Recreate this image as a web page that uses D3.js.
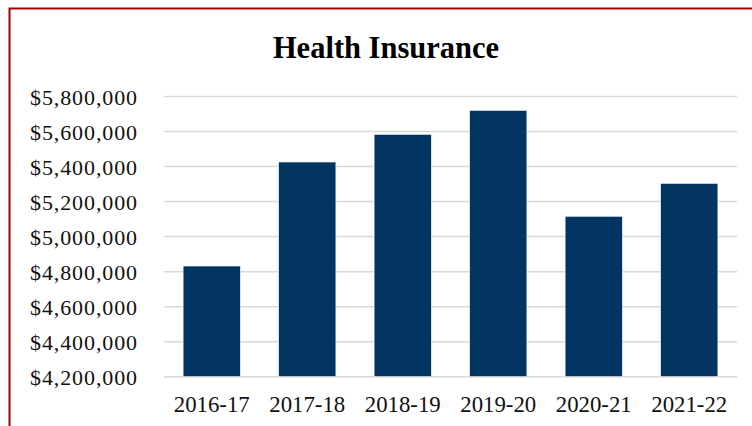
<!DOCTYPE html>
<html>
<head>
<meta charset="utf-8">
<script src="https://cdn.jsdelivr.net/npm/d3@7"></script>
<style>
  html, body { margin: 0; padding: 0; background: #fff; }
  svg { display: block; }
</style>
</head>
<body>
<svg id="chart" width="752" height="426"></svg>
<script>
const title = "Health Insurance";
const categories = ["2016-17", "2017-18", "2018-19", "2019-20", "2020-21", "2021-22"];
const values = [4832000, 5426000, 5584000, 5721000, 5116000, 5304000];
const yTicks = [4200000, 4400000, 4600000, 4800000, 5000000, 5200000, 5400000, 5600000, 5800000];

const svg = d3.select("#chart");
const W = 752, H = 426;

// outer border
svg.append("rect")
  .attr("x", 9.5).attr("y", 8.5)
  .attr("width", W + 20).attr("height", H + 20)
  .attr("fill", "#fff")
  .attr("stroke", "#a00000")
  .attr("stroke-width", 2);

const plot = { left: 164, right: 737, top: 96.5, bottom: 376.7 };

const x = d3.scaleBand()
  .domain(categories)
  .range([plot.left, plot.right])
  .paddingInner(0.4)
  .paddingOuter(0.2);

const y = d3.scaleLinear()
  .domain([4200000, 5800000])
  .range([plot.bottom, plot.top]);

const fmt = v => "$" + d3.format(",")(v);

// gridlines
svg.append("g")
  .selectAll("line")
  .data(yTicks)
  .join("line")
  .attr("x1", plot.left).attr("x2", plot.right)
  .attr("y1", d => y(d)).attr("y2", d => y(d))
  .attr("stroke", "#d9d9d9")
  .attr("stroke-width", 1.5);

// bars
svg.append("g")
  .selectAll("rect")
  .data(values)
  .join("rect")
  .attr("x", (d, i) => x(categories[i]))
  .attr("width", x.bandwidth())
  .attr("y", d => y(d))
  .attr("height", d => y(4200000) - y(d))
  .attr("fill", "#023461")
  .attr("stroke", "#ffffff")
  .attr("stroke-width", 0.6);

// y axis labels
const yAxis = d3.axisLeft(y).tickValues(yTicks).tickFormat(fmt).tickSize(0).tickPadding(0);
const gy = svg.append("g")
  .attr("transform", `translate(138,0)`)
  .call(yAxis);
gy.select(".domain").remove();
gy.selectAll("text")
  .attr("font-family", "'Liberation Serif', 'DejaVu Serif', serif")
  .attr("font-size", "22px")
  .attr("letter-spacing", "0.9px")
  .attr("fill", "#111")
  .attr("dy", "0.36em");

// x axis labels
const xAxis = d3.axisBottom(x).tickSize(0).tickPadding(0);
const gx = svg.append("g")
  .attr("transform", `translate(0,${plot.bottom})`)
  .call(xAxis);
gx.select(".domain").remove();
gx.selectAll("text")
  .attr("font-family", "'Liberation Serif', 'DejaVu Serif', serif")
  .attr("font-size", "22.8px")
  .attr("fill", "#111")
  .attr("dy", null)
  .attr("y", 35);

// title
svg.append("text")
  .attr("x", 386)
  .attr("y", 57.7)
  .attr("text-anchor", "middle")
  .attr("font-family", "'Liberation Serif', 'DejaVu Serif', serif")
  .attr("font-weight", "bold")
  .attr("font-size", "30.5px")
  .attr("fill", "#000")
  .text(title);
</script>
</body>
</html>
